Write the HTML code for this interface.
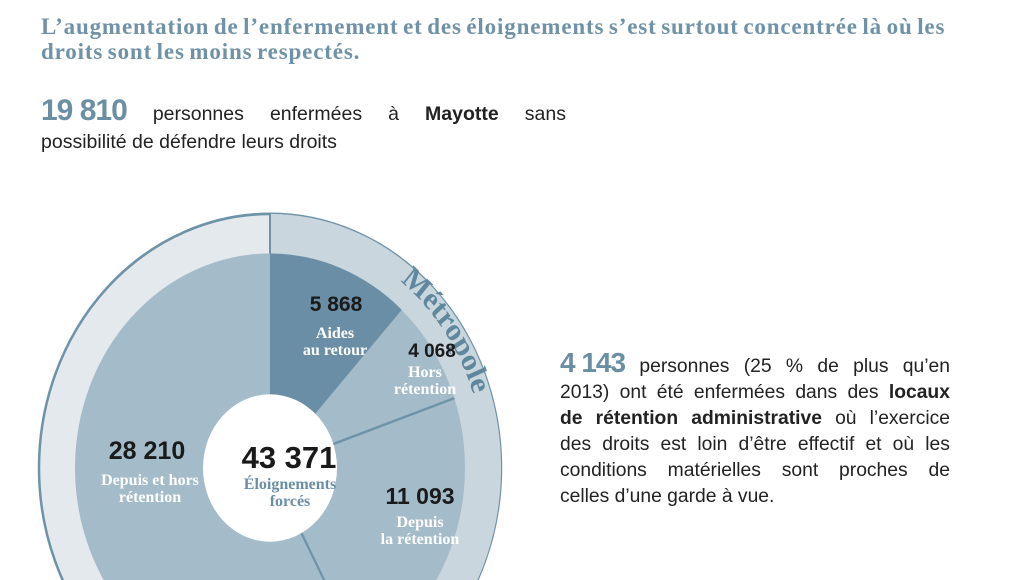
<!DOCTYPE html>
<html><head><meta charset="utf-8"><style>
html,body{margin:0;width:1025px;height:580px;overflow:hidden}
body{background:#fff;position:relative;font-family:"Liberation Sans",sans-serif}
.title{position:absolute;left:41px;top:14px;font:bold 23px "Liberation Serif",serif;color:#6f92a6;line-height:25px;letter-spacing:0.85px;white-space:nowrap;word-spacing:-2px}
.ln{display:flex;justify-content:space-between;white-space:nowrap;align-items:baseline}
.p1{position:absolute;left:41px;top:94px;width:525px;font-size:19.5px;line-height:28px;color:#222}
.big{font:bold 30px "Liberation Sans",sans-serif;color:#6a8fa5;letter-spacing:-1px}
.p2{position:absolute;left:560px;top:347px;width:390px;font-size:19.3px;line-height:26px;color:#222}
.n{font-weight:bold;color:#1a1a1a;position:absolute;transform:translateX(-50%);white-space:nowrap}
.l{font:bold 16px "Liberation Serif",serif;color:#fff;text-align:center;position:absolute;transform:translateX(-50%);white-space:nowrap;line-height:17px}
</style></head><body>
<div class="title">L’augmentation de l’enfermement et des éloignements s’est surtout concentrée là où les<br>droits sont les moins respectés.</div>
<div class="p1"><div class="ln"><span class="big">19 810</span><span>personnes</span><span>enfermées</span><span>à</span><b>Mayotte</b><span>sans</span></div><div>possibilité de défendre leurs droits</div></div>
<svg width="1025" height="580" viewBox="0 0 1025 580" style="position:absolute;left:0;top:0;overflow:hidden">
<g transform="translate(270,468) scale(1,1.1)">
<circle r="231" fill="#e3e9ed" stroke="#6e93a8" stroke-width="2.5"/>
<path d="M0,-231 A231,231 0 0 1 79,217.1 L66.7,183.2 A195,195 0 0 0 0,-195Z" fill="#c9d6de"/>
<line x1="0" y1="-231" x2="0" y2="-195" stroke="#6e93a8" stroke-width="2"/>
<circle r="195" fill="#a4bbca"/>
<path d="M0,-195 A195,195 0 0 1 131.7,-143.8 L0,0Z" fill="#6a8ea5"/>
<line x1="0" y1="0" x2="184.4" y2="-63.5" stroke="#6e93a8" stroke-width="2.2"/>
<line x1="0" y1="0" x2="91.5" y2="172.2" stroke="#6e93a8" stroke-width="2.2"/>
<circle r="67" fill="#fff"/>
<path id="arc" d="M107,-185.3 A214,214 0 0 1 213.2,-18.7" fill="none"/>
<text font-family="Liberation Serif,serif" font-weight="bold" font-size="29" fill="#5f879e"><textPath href="#arc" startOffset="28">Métropole</textPath></text>
</g>
</svg>
<div class="n" style="left:336px;top:293px;font-size:21px">5 868</div>
<div class="l" style="left:335px;top:325px">Aides<br>au retour</div>
<div class="n" style="left:432px;top:341px;font-size:19px">4 068</div>
<div class="l" style="left:425px;top:364px">Hors<br>rétention</div>
<div class="n" style="left:147px;top:437px;font-size:25px">28 210</div>
<div class="l" style="left:150px;top:472px">Depuis et hors<br>rétention</div>
<div class="n" style="left:289px;top:440px;font-size:31px">43 371</div>
<div class="l" style="left:290px;top:476px;color:#6a8fa5">Éloignements<br>forcés</div>
<div class="n" style="left:420px;top:483px;font-size:23px">11 093</div>
<div class="l" style="left:420px;top:514px">Depuis<br>la rétention</div>
<div class="p2">
<div class="ln"><span class="big" style="font-size:28px">4 143</span><span>personnes</span><span>(25</span><span>%</span><span>de</span><span>plus</span><span>qu’en</span></div>
<div class="ln"><span>2013)</span><span>ont</span><span>été</span><span>enfermées</span><span>dans</span><span>des</span><b>locaux</b></div>
<div class="ln"><b>de</b><b>rétention</b><b>administrative</b><span>où</span><span>l’exercice</span></div>
<div class="ln"><span>des</span><span>droits</span><span>est</span><span>loin</span><span>d’être</span><span>effectif</span><span>et</span><span>où</span><span>les</span></div>
<div class="ln"><span>conditions</span><span>matérielles</span><span>sont</span><span>proches</span><span>de</span></div>
<div>celles d’une garde à vue.</div>
</div>
</body></html>
